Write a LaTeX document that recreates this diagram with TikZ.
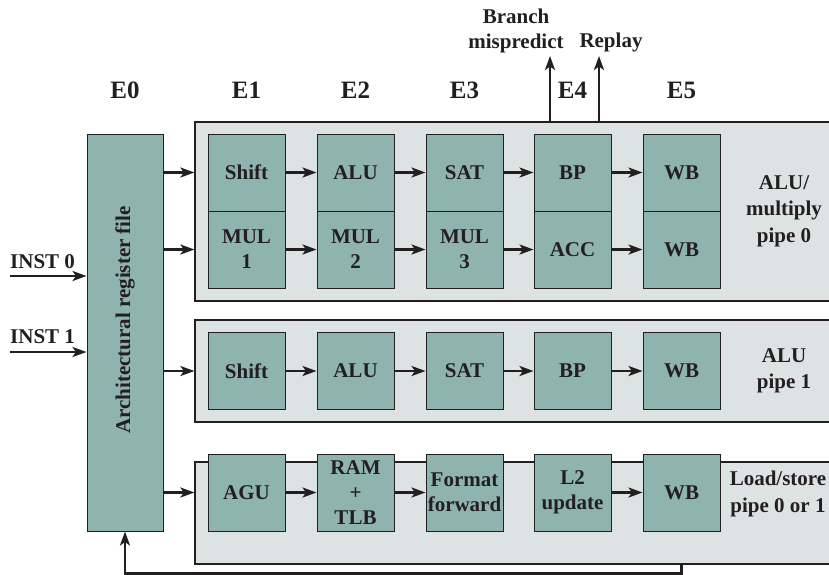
\documentclass[tikz,border=0pt]{standalone}
\usepackage{fontspec}
\setmainfont{Liberation Serif}
\usetikzlibrary{arrows.meta}
\definecolor{ink}{HTML}{231F20}
\definecolor{stagefill}{HTML}{8FB4B0}
\definecolor{pipefill}{HTML}{DDE3E3}

\begin{document}
\begin{tikzpicture}[x=1pt,y=-1pt,>={Stealth[length=14pt,width=10pt,inset=3.5pt]},
    every node/.style={font=\fontsize{21}{25}\selectfont\bfseries, text=ink, align=center},
    pipebox/.style={draw=ink, fill=pipefill, line width=1.2pt, minimum width=645, inner sep=0},
    stagebox/.style={draw=ink, fill=stagefill, line width=1pt, minimum width=77, minimum height=77, inner sep=0},
    stagelbl/.style={font=\fontsize{25}{28}\selectfont\bfseries, anchor=base},
    pipelbl/.style={font=\fontsize{21}{26.5}\selectfont\bfseries},
    flow/.style={->, draw=ink, line width=2.4pt}]
    \useasboundingbox (0,0) rectangle (829,574);

    % stage labels
    \node[stagelbl] (E0) at (125,98) {E0};
    \node[stagelbl] (E1) at (246.5,98) {E1};
    \node[stagelbl] (E2) at (355.5,98) {E2};
    \node[stagelbl] (E3) at (464.5,98) {E3};
    \node[stagelbl] (E4) at (572.5,98) {E4};
    \node[stagelbl] (E5) at (681.5,98) {E5};

    % register file and pipes
    \node[stagebox, minimum width=76, minimum height=397] (regfile) at (125,332.5) {};
    \node[rotate=90] (regtxt) at (125,320) {Architectural register file};
    \node[pipebox, minimum height=179] (pipeA) at (517.5,211.5) {};
    \node[pipebox, minimum height=102] (pipeB) at (517.5,371) {};
    \node[pipebox, minimum height=102] (pipeC) at (517.5,513) {};

    % ALU/multiply pipe 0
    \node[stagebox] (sh0) at (246.5,172.5) {Shift};
    \node[stagebox] (alu0) at (355.5,172.5) {ALU};
    \node[stagebox] (sat0) at (464.5,172.5) {SAT};
    \node[stagebox] (bp0) at (572.5,172.5) {BP};
    \node[stagebox] (wb0) at (681.5,172.5) {WB};
    \node[stagebox] (mul1) at (246.5,249.5) {MUL\\1};
    \node[stagebox] (mul2) at (355.5,249.5) {MUL\\2};
    \node[stagebox] (mul3) at (464.5,249.5) {MUL\\3};
    \node[stagebox] (acc) at (572.5,249.5) {ACC};
    \node[stagebox] (wb1) at (681.5,249.5) {WB};
    \node[pipelbl] (lblA) at (784,211) {ALU/\\multiply\\pipe 0};

    % ALU pipe 1
    \node[stagebox] (sh1) at (246.5,371) {Shift};
    \node[stagebox] (alu1) at (355.5,371) {ALU};
    \node[stagebox] (sat1) at (464.5,371) {SAT};
    \node[stagebox] (bp1) at (572.5,371) {BP};
    \node[stagebox] (wb2) at (681.5,371) {WB};
    \node[pipelbl] (lblB) at (784,371) {ALU\\pipe 1};

    % load/store pipe
    \node[stagebox] (agu) at (246.5,492.5) {AGU};
    \node[stagebox] (ram) at (355.5,492.5) {RAM\\+\\TLB};
    \node[stagebox] (fmt) at (464.5,492.5) {Format\\forward};
    \node[stagebox] (ltwo) at (572.5,492.5) {L2\\update};
    \node[stagebox] (wb3) at (681.5,492.5) {WB};
    \node[pipelbl] (lblC) at (778,494) {Load/store\\pipe 0 or 1};

    % inputs
    \node[anchor=base west, inner sep=0] (inst0) at (10,268) {INST 0};
    \node[anchor=base west, inner sep=0] (inst1) at (10,343) {INST 1};
    \coordinate (in0) at (10,276);
    \coordinate (in1) at (10,352);
    \draw[flow] (in0) -- (in0 -| regfile.west);
    \draw[flow] (in1) -- (in1 -| regfile.west);

    % outputs at E4
    \node[anchor=south] (bmis) at (516,56) {Branch\\mispredict};
    \node[anchor=south] (rply) at (611,56) {Replay};
    \coordinate (brk) at (550,122);
    \coordinate (rpl) at (599,122);
    \draw[flow] (brk) -- (brk |- bmis.south);
    \draw[flow] (rpl) -- (rpl |- rply.south);

    % issue into pipes
    \draw[flow] (regfile.east |- sh0) -- (pipeA.west |- sh0);
    \draw[flow] (regfile.east |- mul1) -- (pipeA.west |- mul1);
    \draw[flow] (regfile.east |- sh1) -- (pipeB.west |- sh1);
    \draw[flow] (regfile.east |- agu) -- (pipeC.west |- agu);

    \draw[flow] (sh0) -- (alu0);
    \draw[flow] (alu0) -- (sat0);
    \draw[flow] (sat0) -- (bp0);
    \draw[flow] (bp0) -- (wb0);
    \draw[flow] (mul1) -- (mul2);
    \draw[flow] (mul2) -- (mul3);
    \draw[flow] (mul3) -- (acc);
    \draw[flow] (acc) -- (wb1);
    \draw[flow] (sh1) -- (alu1);
    \draw[flow] (alu1) -- (sat1);
    \draw[flow] (sat1) -- (bp1);
    \draw[flow] (bp1) -- (wb2);
    \draw[flow] (agu) -- (ram);
    \draw[flow] (ram) -- (fmt);
    \draw[flow] (ltwo) -- (wb3);

    % write back
    \draw[flow] (wb3.south |- pipeC.south) -- ++(0,9) -| (regfile.south);
\end{tikzpicture}
\end{document}
